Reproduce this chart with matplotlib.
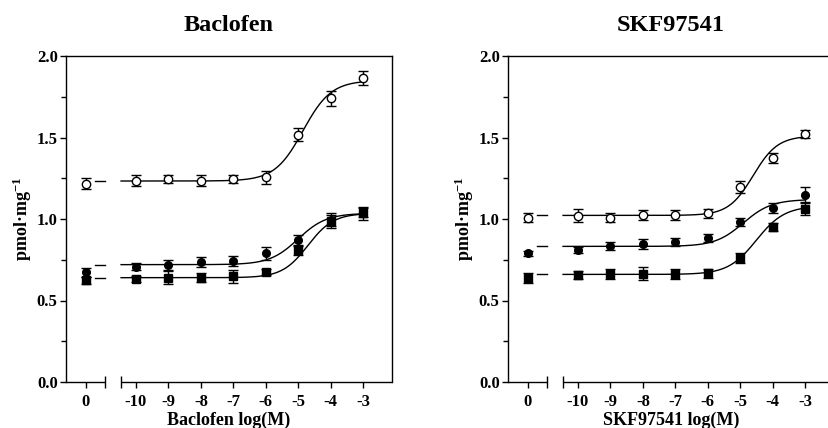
import numpy as np
import matplotlib
matplotlib.use("Agg")
import matplotlib.pyplot as plt
from matplotlib.ticker import MultipleLocator, FixedLocator
import matplotlib.transforms as mtrans

plt.rcParams['font.family'] = ['Liberation Serif', 'DejaVu Serif']
plt.rcParams['font.weight'] = 'bold'
plt.rcParams['mathtext.fontset'] = 'custom'
plt.rcParams['mathtext.rm'] = 'Liberation Serif:bold'
plt.rcParams['mathtext.default'] = 'rm'

# x categories: control (0) and log concentrations
x_labels = ['0', '-10', '-9', '-8', '-7', '-6', '-5', '-4', '-3']
log_conc = [-10, -9, -8, -7, -6, -5, -4, -3]
zero_pos = -11.55  # position of the control column on the broken axis

# ---- Baclofen panel ----
bac_open = [1.216, 1.236, 1.244, 1.236, 1.244, 1.256, 1.518, 1.740, 1.867]
bac_open_err = [0.033, 0.034, 0.026, 0.034, 0.024, 0.040, 0.041, 0.044, 0.043]
bac_circ = [0.672, 0.707, 0.717, 0.737, 0.742, 0.790, 0.872, 0.995, 1.040]
bac_circ_err = [0.030, 0.020, 0.030, 0.030, 0.030, 0.040, 0.030, 0.040, 0.030]
bac_sq = [0.623, 0.633, 0.639, 0.641, 0.650, 0.674, 0.807, 0.985, 1.036]
bac_sq_err = [0.020, 0.020, 0.040, 0.030, 0.040, 0.020, 0.030, 0.040, 0.040]
# fitted sigmoid parameters: bottom, top, logEC50, hill
bac_open_fit = [1.233, 1.85, -4.85, 1.0]
bac_circ_fit = [0.720, 1.035, -5.0, 1.0]
bac_sq_fit = [0.640, 1.035, -4.7, 1.1]

# ---- SKF97541 panel ----
skf_open = [1.009, 1.021, 1.009, 1.026, 1.026, 1.034, 1.197, 1.373, 1.522]
skf_open_err = [0.030, 0.040, 0.030, 0.030, 0.030, 0.025, 0.035, 0.030, 0.025]
skf_circ = [0.791, 0.809, 0.834, 0.848, 0.860, 0.885, 0.979, 1.068, 1.150]
skf_circ_err = [0.015, 0.020, 0.025, 0.030, 0.025, 0.025, 0.025, 0.030, 0.045]
skf_sq = [0.637, 0.658, 0.664, 0.664, 0.664, 0.666, 0.762, 0.950, 1.062]
skf_sq_err = [0.030, 0.025, 0.030, 0.040, 0.030, 0.025, 0.030, 0.025, 0.035]
skf_open_fit = [1.022, 1.51, -4.6, 1.15]
skf_circ_fit = [0.832, 1.12, -4.9, 1.0]
skf_sq_fit = [0.660, 1.08, -4.5, 1.0]

titles = ['Baclofen', 'SKF97541']
xlabels = ['Baclofen log(M)', 'SKF97541 log(M)']

W, H = 829, 428
fig = plt.figure(figsize=(W / 100, H / 100), dpi=100)

ax_w = 326 / W
ax_h = 326 / H
ax_b = (H - 382) / H
axes = [fig.add_axes([66 / W, ax_b, ax_w, ax_h]),
        fig.add_axes([508 / W, ax_b, ax_w, ax_h])]

xlim = (-12.158, -2.106)
brk_l, brk_r = -10.97, -10.46
curve_start = -11.25


def sigmoid(x, p):
    b, t, ec, h = p
    return b + (t - b) / (1 + 10 ** ((ec - x) * h))


def draw_panel(ax, series, title, xlabel):
    xpos = [zero_pos] + log_conc
    for vals, errs, fit, marker, mfc, ms in series:
        # fitted curve in two pieces (broken axis)
        xa = np.linspace(curve_start, brk_l, 5)
        xb = np.linspace(brk_r, -3, 300)
        ya = np.full_like(xa, fit[0])
        ax.plot(xa, ya, color='black', lw=1.0, zorder=2)
        ax.plot(xb, sigmoid(xb, fit), color='black', lw=1.0, zorder=2)
        ax.errorbar(xpos, vals, yerr=errs, fmt=marker, ms=ms, mfc=mfc,
                    mec='black', mew=1.0, ecolor='black', elinewidth=1.0,
                    capsize=3.5, capthick=1.0, zorder=3)

    ax.set_xlim(*xlim)
    ax.set_ylim(0, 2.0)
    ax.spines['bottom'].set_visible(False)
    for s in ['left', 'top', 'right']:
        ax.spines[s].set_linewidth(1.0)
    trans = mtrans.blended_transform_factory(ax.transData, ax.transAxes)
    ax.plot([xlim[0], brk_l], [0, 0], color='black', lw=1.0,
            transform=trans, clip_on=False, solid_capstyle='butt')
    ax.plot([brk_r, xlim[1]], [0, 0], color='black', lw=1.0,
            transform=trans, clip_on=False, solid_capstyle='butt')
    ax.plot([brk_l, brk_r], [0, 0], ls='none', marker='|', ms=8, mew=1.0,
            color='black', transform=trans, clip_on=False)

    ax.xaxis.set_major_locator(FixedLocator(xpos))
    ax.set_xticklabels(x_labels)
    yt = np.arange(0, 2.01, 0.5)
    ax.yaxis.set_major_locator(FixedLocator(yt))
    ax.set_yticklabels(['%.1f' % v for v in yt])
    ax.yaxis.set_minor_locator(MultipleLocator(0.25))
    ax.tick_params(axis='both', which='major', direction='out', length=4.5,
                   width=1.0, labelsize=12, pad=1.5)
    ax.tick_params(axis='y', which='minor', direction='out', length=3.5,
                   width=1.0)
    ax.tick_params(axis='x', which='major', pad=4)
    for lab in ax.get_xticklabels() + ax.get_yticklabels():
        lab.set_fontweight('bold')

    ax.set_title(title, fontsize=17.5, fontweight='bold', pad=18)
    ax.set_xlabel(xlabel, fontsize=13, fontweight='bold', labelpad=1.5)
    ax.set_ylabel('pmol\u00b7mg$^{-1}$', fontsize=13, fontweight='bold',
                  labelpad=2)


draw_panel(axes[0], [
    (bac_open, bac_open_err, bac_open_fit, 'o', 'white', 6.0),
    (bac_circ, bac_circ_err, bac_circ_fit, 'o', 'black', 5.5),
    (bac_sq, bac_sq_err, bac_sq_fit, 's', 'black', 5.5),
], titles[0], xlabels[0])

draw_panel(axes[1], [
    (skf_open, skf_open_err, skf_open_fit, 'o', 'white', 6.0),
    (skf_circ, skf_circ_err, skf_circ_fit, 'o', 'black', 5.5),
    (skf_sq, skf_sq_err, skf_sq_fit, 's', 'black', 5.5),
], titles[1], xlabels[1])

fig.savefig('out.png', dpi=100)
